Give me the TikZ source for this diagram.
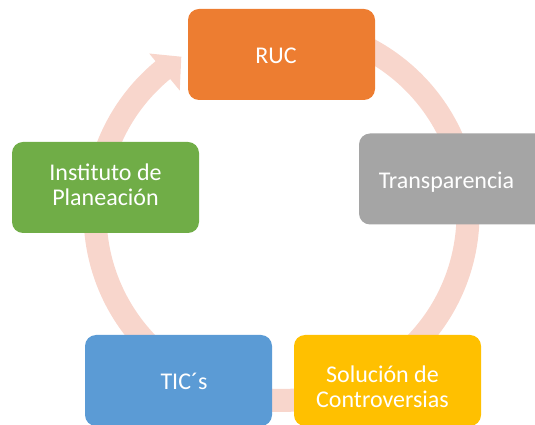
\documentclass[tikz,border=0pt]{standalone}
\usepackage{fontspec}
\setmainfont{Carlito}
\definecolor{ringc}{HTML}{F8D6CC}
\definecolor{cOrange}{HTML}{ED7D31}
\definecolor{cGreen}{HTML}{70AD47}
\definecolor{cGray}{HTML}{A5A5A5}
\definecolor{cBlue}{HTML}{5B9BD5}
\definecolor{cGold}{HTML}{FFC000}
\begin{document}
\begin{tikzpicture}[x=1pt,y=1pt,
  box/.style={rounded corners=11pt, minimum width=187pt, minimum height=91pt, inner sep=0pt},
  lbl/.style={text=white, font=\fontsize{24}{25.5}\selectfont, align=center, inner sep=0pt, anchor=base}]
\useasboundingbox (0,0) rectangle (535,425);
\clip (0,0) rectangle (535,425);
% continuous cycle arrow
\begin{scope}[shift={(281.5,211)}]
\fill[ringc] (95:198) arc[start angle=95, end angle=-230.5, radius=198]
  -- (129.5:208) -- (122.5:186.5) -- (129.5:160) -- (129.5:175)
  arc[start angle=-230.5, end angle=95, radius=175] -- cycle;
\end{scope}
% boxes
\node[box, fill=cOrange] (ruc) at (281.5,370.5) {};
\node[box, fill=cGray] (trans) at (452.5,246) {};
\node[box, fill=cGold] (sol) at (387.5,44.5) {};
\node[box, fill=cBlue] (tic) at (178.5,44.5) {};
\node[box, fill=cGreen] (inst) at (105.5,237.5) {};
% labels
\node[lbl] (ruct) at (276,361) {RUC};
\node[lbl] (transt) at (446.5,236.7) {Transparencia};
\node[lbl] (solt) at (382.5,17) {Solución de\\Controversias};
\node[lbl] (tict) at (184,35) {TIC´s};
\node[lbl] (instt) at (105.5,219) {Instituto de\\Planeación};
\end{tikzpicture}
\end{document}
